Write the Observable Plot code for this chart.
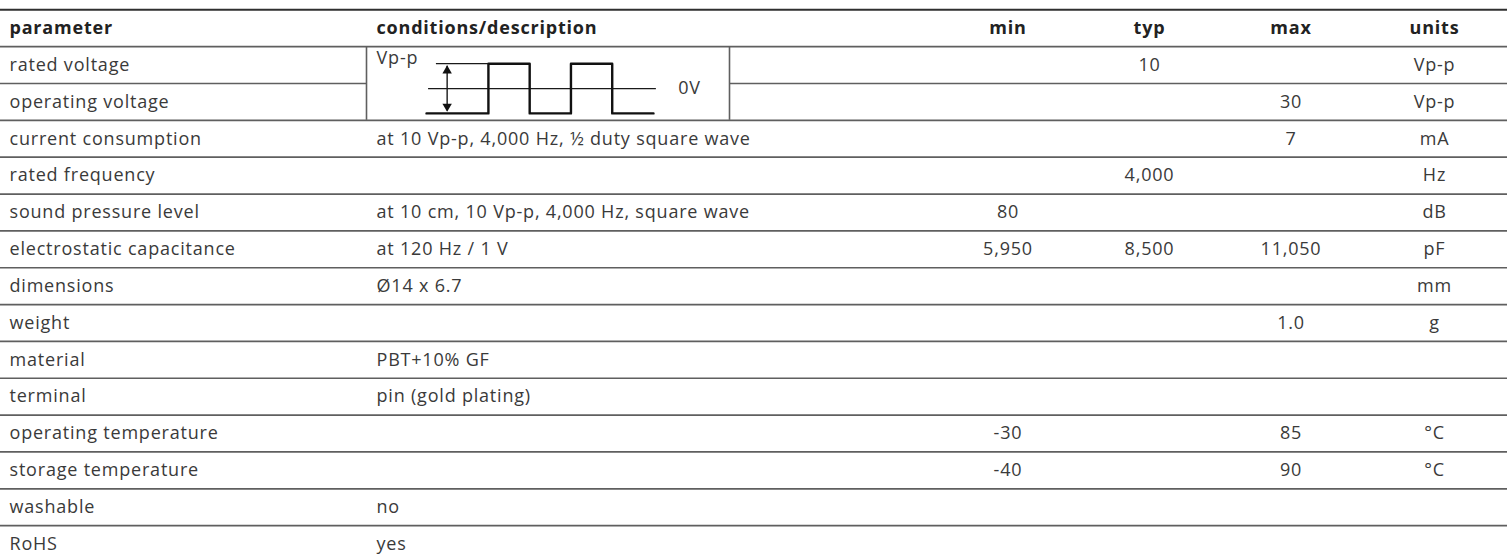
<!DOCTYPE html>
<html>
<head>
<meta charset="utf-8">
<script src="https://cdn.jsdelivr.net/npm/d3@7"></script>
<script src="https://cdn.jsdelivr.net/npm/@observablehq/plot@0.6"></script>
<style>
  body { margin: 0; background: #fff; }
  #wrap { position: relative; width: 1507px; height: 560px; overflow: hidden; background: #fff; }
  #wrap svg { position: absolute; left: 0; top: 0; letter-spacing: 0.8px; }
</style>
</head>
<body>
<div id="wrap"></div>
<script>
// ---------- data ----------
const headers = ["parameter", "conditions/description", "min", "typ", "max", "units"];
const parameters = [
  "rated voltage", "operating voltage", "current consumption", "rated frequency",
  "sound pressure level", "electrostatic capacitance", "dimensions", "weight",
  "material", "terminal", "operating temperature", "storage temperature",
  "washable", "RoHS"
];
const conditions = [
  "", "", "at 10 Vp-p, 4,000 Hz, ½ duty square wave", "",
  "at 10 cm, 10 Vp-p, 4,000 Hz, square wave", "at 120 Hz / 1 V", "Ø14 x 6.7", "",
  "PBT+10% GF", "pin (gold plating)", "", "", "no", "yes"
];
const minValues = ["", "", "", "", "80", "5,950", "", "", "", "", "-30", "-40", "", ""];
const typValues = ["10", "", "", "4,000", "", "8,500", "", "", "", "", "", "", "", ""];
const maxValues = ["", "30", "7", "", "", "11,050", "", "1.0", "", "", "85", "90", "", ""];
const units = ["Vp-p", "Vp-p", "mA", "Hz", "dB", "pF", "mm", "g", "", "", "°C", "°C", "", ""];

// square-wave diagram (time in half periods, level in ±1 of Vp-p)
const waveTimes = [0, 1.5, 2.5, 3.5, 4.5, 5.5];
const waveLevels = [-1, 1, -1, 1, -1, -1];
const diagramLabels = ["Vp-p", "0V"];

// ---------- layout (positions / styles) ----------
const W = 1507, H = 560;
const colEdges = [0, 366, 937, 1078, 1220, 1361, 1507];
const diagramRight = 729;
const textPad = [9, 10];
const font = "'Open Sans', sans-serif";
const fs = 18;
const textColor = "#3a3a3a";
const lineColor = "#5f5f5f";

const rows = parameters.map((p, i) => ({
  row: i + 1, parameter: p, conditions: conditions[i],
  min: minValues[i], typ: typValues[i], max: maxValues[i], units: units[i]
}));
const valueKeys = ["min", "typ", "max", "units"];
const valueCells = rows.flatMap(r => valueKeys.map((k, j) => ({row: r.row, col: j + 2, text: r[k]})))
  .filter(d => d.text !== "");
const colCenter = c => (colEdges[c] + colEdges[c + 1]) / 2;

const innerLines = d3.range(1, parameters.length + 1).filter(k => k !== 2);

const main = Plot.plot({
  width: W, height: H,
  marginTop: 0, marginBottom: 0, marginLeft: 0, marginRight: 0,
  x: {domain: [0, W], range: [0, W], axis: null},
  y: {domain: [0, parameters.length + 1], range: [9.3, 562], axis: null},
  style: {fontFamily: font, background: "transparent", overflow: "visible", letterSpacing: "0.8px"},
  marks: [
    Plot.ruleY([0], {x1: 0, x2: W, stroke: "#2f2f2f", strokeWidth: 2}),
    Plot.ruleY(innerLines, {x1: 0, x2: W, stroke: lineColor, strokeWidth: 1.7}),
    Plot.ruleY([2, 2], {x1: [colEdges[0], diagramRight], x2: [colEdges[1], W], stroke: lineColor, strokeWidth: 1.7}),
    Plot.ruleX([colEdges[1], diagramRight], {y1: 1, y2: 3, stroke: lineColor, strokeWidth: 1.6}),
    // header
    Plot.text(headers.slice(0, 2), {x: (d, i) => colEdges[i] + textPad[i], y: 0.5, text: d => d,
      textAnchor: "start", fontSize: fs, fontWeight: "bold", fill: "#222"}),
    Plot.text(headers.slice(2), {x: (d, i) => colCenter(i + 2), y: 0.5, text: d => d,
      textAnchor: "middle", fontSize: fs, fontWeight: "bold", fill: "#222"}),
    // body
    Plot.text(rows, {x: () => colEdges[0] + textPad[0], y: d => d.row + 0.5, text: "parameter",
      textAnchor: "start", fontSize: fs, fill: textColor}),
    Plot.text(rows.filter(d => d.conditions !== ""), {x: () => colEdges[1] + textPad[1], y: d => d.row + 0.5, text: "conditions",
      textAnchor: "start", fontSize: fs, fill: textColor}),
    Plot.text(valueCells, {x: d => colCenter(d.col), y: d => d.row + 0.5, text: "text",
      textAnchor: "middle", fontSize: fs, fill: textColor})
  ]
});
document.getElementById("wrap").appendChild(main);

// ---------- inset diagram placed through the main scales ----------
const xs = main.scale("x"), ys = main.scale("y");
const cellLeft = xs.apply(colEdges[1]);
const cellTop = ys.apply(1);
const cellW = xs.apply(diagramRight) - cellLeft;
const cellH = ys.apply(3) - cellTop;

const wave = waveTimes.map((t, i) => ({t, v: waveLevels[i]}));
const inset = Plot.plot({
  width: cellW, height: cellH,
  marginTop: 0, marginBottom: 0, marginLeft: 0, marginRight: 0,
  x: {domain: [0, 5.5], range: [60, 287], axis: null},
  y: {domain: [-1, 1], range: [66.9, 17.2], axis: null},
  style: {fontFamily: font, background: "transparent", overflow: "visible", letterSpacing: "0.8px"},
  marks: [
    Plot.ruleY([0], {x1: 0.05, x2: 5.57, stroke: "#1a1a1a", strokeWidth: 1.2}),
    Plot.ruleY([1], {x1: 0.24, x2: 1.5, stroke: "#1a1a1a", strokeWidth: 1.2}),
    Plot.ruleX([0.5], {y1: -0.9, y2: 0.9, stroke: "#1a1a1a", strokeWidth: 1.4}),
    Plot.dot([1], {x: () => 0.5, y: d => d, symbol: "triangle", r: 3.5, fill: "#111", stroke: "none", dy: 7}),
    Plot.dot([-1], {x: () => 0.5, y: d => d, symbol: "triangle", r: 3.5, fill: "#111", stroke: "none", dy: -7, rotate: 180}),
    Plot.line(wave, {x: "t", y: "v", curve: "step-after", stroke: "#111", strokeWidth: 2.4}),
    Plot.text([diagramLabels[0]], {x: () => -1.21, y: () => 1, dy: -5, text: d => d, textAnchor: "start", fontSize: fs, fill: textColor}),
    Plot.text([diagramLabels[1]], {x: () => 6.1, y: () => 0, text: d => d, textAnchor: "start", fontSize: fs, fill: textColor})
  ]
});
inset.style.left = cellLeft + "px";
inset.style.top = cellTop + "px";
document.getElementById("wrap").appendChild(inset);
</script>
</body>
</html>
